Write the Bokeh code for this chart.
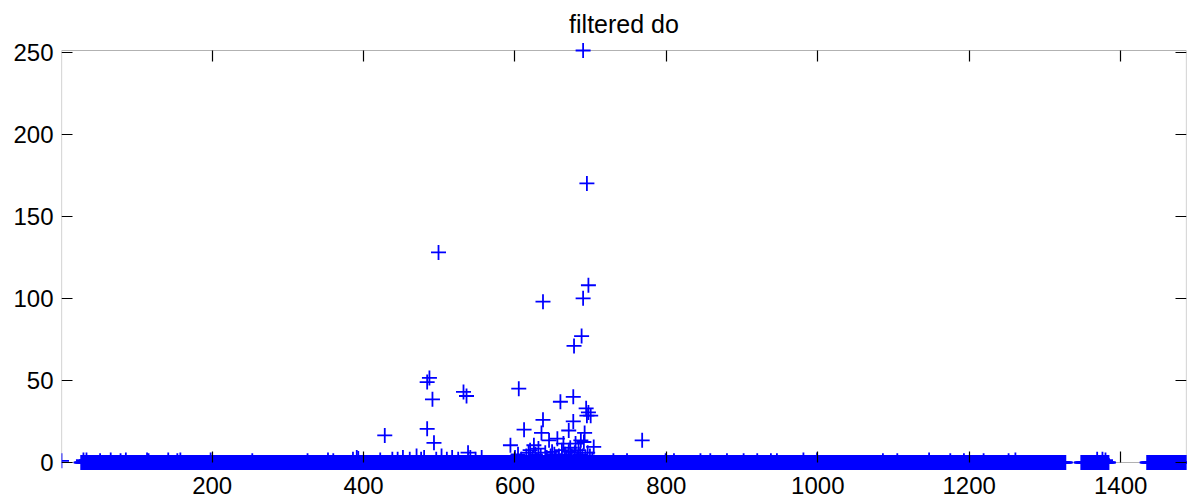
import numpy as np
from bokeh.plotting import figure
from bokeh.models import Range1d, LinearAxis, FixedTicker, BoxAnnotation, ColumnDataSource
from bokeh.embed import file_html
from bokeh.resources import INLINE

# ---------------- data ----------------
TITLE = "filtered do"
X_LIMITS = [1, 1487]
Y_LIMITS = [0, 251]
X_TICKS = [200, 400, 600, 800, 1000, 1200, 1400]
Y_TICKS = [0, 50, 100, 150, 200, 250]

# runs of consecutive samples whose value is zero (start, end inclusive)
ZERO_RUNS = [(27, 1327), (1348, 1384), (1435, 1487)]

# raised samples (outliers)
OUT_X = [1, 690, 695, 499, 697, 690, 637, 688, 678,
         484, 487, 491, 532, 536, 605, 660, 677,
         428, 484, 493, 768, 612, 637, 635, 677, 671, 656, 692,
         694, 697, 695, 700, 704, 687, 594, 625, 645, 631, 620,
         664, 673, 680, 684, 691, 649, 662, 671, 538]
OUT_Y = [1.0, 251, 170, 128, 108, 100, 98, 77, 71,
         49, 51.5, 38.5, 43, 40.5, 45, 37, 40,
         16.5, 20.5, 12, 13.5, 20, 26, 18, 25, 19.5, 14.5, 18,
         33, 30.5, 28.5, 28.5, 9.5, 13.5, 10.5, 10.5, 13.5, 8.5, 7.5,
         11.5, 9, 11.5, 7.5, 12.5, 6.5, 7.5, 6.5, 6]

# small non-zero samples near the baseline
SMALL_X = [30, 34, 52, 66, 79, 86, 114, 116, 142, 154, 158, 198, 253, 326, 353,
           360, 386, 391, 393, 422, 438, 445, 452, 461, 470, 476, 480, 496, 503,
           510, 517, 525, 541, 548, 556, 600, 604, 608, 615, 618, 623, 627, 629,
           634, 640, 642, 647, 652, 654, 658, 666, 668, 675, 679, 682, 686, 689,
           693, 696, 699, 702, 730, 748, 799, 810, 845, 858, 880, 902, 920, 938,
           946, 981, 999, 1086, 1105, 1147, 1175, 1193, 1219, 1252, 1261, 1369,
           1376, 1380]
SMALL_Y = [1.5, 1.5, 1, 1.5, 1, 1.5, 1.5, 1, 1.5, 1, 1.5, 1.5, 1, 1, 1.5,
           1, 2, 3, 2.5, 1.5, 2, 2, 3, 2, 4, 2, 3, 2, 4,
           2, 3, 2, 3, 2, 3, 3, 5, 2, 4, 6, 3, 5, 2,
           4, 6, 3, 4, 5, 2, 4, 5, 3, 4, 6, 3, 5, 4,
           3, 6, 4, 2, 1, 1, 1, 1, 1, 1, 1, 1, 1, 1,
           1, 1.5, 1.5, 1, 1, 1.5, 1, 1, 1, 1, 1.5, 2,
           2, 1.5]

# ---------------- assemble series ----------------
xs, ys = [], []
for a, b in ZERO_RUNS:
    run = list(range(a, b + 1))
    xs += run
    ys += [0.0] * len(run)
xs += OUT_X + SMALL_X
ys += OUT_Y + SMALL_Y
src = ColumnDataSource(dict(x=xs, y=ys))

# ---------------- layout (pixels) ----------------
W, H = 1187, 499
BOX_T, BOX_B = 50, 462          # axes box top / bottom
FR_L, FR_R, FR_T, FR_B = 61, 1186, 41, 470   # plotting frame (room for markers)

y_per_px = (Y_LIMITS[1] - Y_LIMITS[0]) / (BOX_B - BOX_T)
x_range = Range1d(X_LIMITS[0], X_LIMITS[1])
y_range = Range1d(Y_LIMITS[0] - (FR_B - BOX_B) * y_per_px,
                  Y_LIMITS[1] + (BOX_T - FR_T) * y_per_px)

FONT = "Liberation Sans"
LABEL_FS = "24px"
TITLE_FS = "25px"

p = figure(width=W, height=H, x_range=x_range, y_range=y_range,
           output_backend="svg", toolbar_location=None,
           x_axis_type=None, y_axis_type=None,
           min_border_left=FR_L, min_border_right=W - FR_R,
           min_border_top=FR_T, min_border_bottom=H - FR_B)
p.outline_line_color = None
p.xgrid.visible = False
p.ygrid.visible = False
p.background_fill_color = "white"
p.border_fill_color = "white"

p.title.text = TITLE
p.title.align = "center"
p.title.text_font = FONT
p.title.text_font_style = "normal"
p.title.text_font_size = TITLE_FS
p.title.text_color = "black"
p.title.standoff = 8

box = BoxAnnotation(left=X_LIMITS[0], right=X_LIMITS[1],
                    bottom=Y_LIMITS[0], top=Y_LIMITS[1],
                    fill_alpha=0, line_color="black", line_width=1.2,
                    level="underlay")
p.add_layout(box)


def tick_axis(ticks, loc, side):
    ax = LinearAxis(ticker=FixedTicker(ticks=ticks), fixed_location=loc)
    ax.axis_line_color = None
    ax.major_tick_in = 11
    ax.major_tick_out = 0
    ax.minor_tick_line_color = None
    ax.major_tick_line_color = "black"
    ax.major_tick_line_width = 1.2
    ax.major_label_text_color = None
    p.add_layout(ax, side)


def label_axis(ticks, side, standoff):
    ax = LinearAxis(ticker=FixedTicker(ticks=ticks))
    ax.axis_line_color = None
    ax.major_tick_in = 0
    ax.major_tick_out = 0
    ax.major_tick_line_color = None
    ax.minor_tick_line_color = None
    ax.major_label_text_font = FONT
    ax.major_label_text_font_size = LABEL_FS
    ax.major_label_text_color = "black"
    ax.major_label_standoff = standoff
    p.add_layout(ax, side)


tick_axis(X_TICKS, Y_LIMITS[0], "below")
tick_axis(X_TICKS, Y_LIMITS[1], "above")
tick_axis(Y_TICKS, X_LIMITS[0], "left")
tick_axis(Y_TICKS, X_LIMITS[1], "right")
label_axis(X_TICKS, "below", 6)
label_axis(Y_TICKS, "left", 8)

p.scatter("x", "y", source=src, marker="cross", size=15,
          line_color="#0000ff", line_width=1.8)

open("out.html", "w").write(file_html(p, INLINE))
